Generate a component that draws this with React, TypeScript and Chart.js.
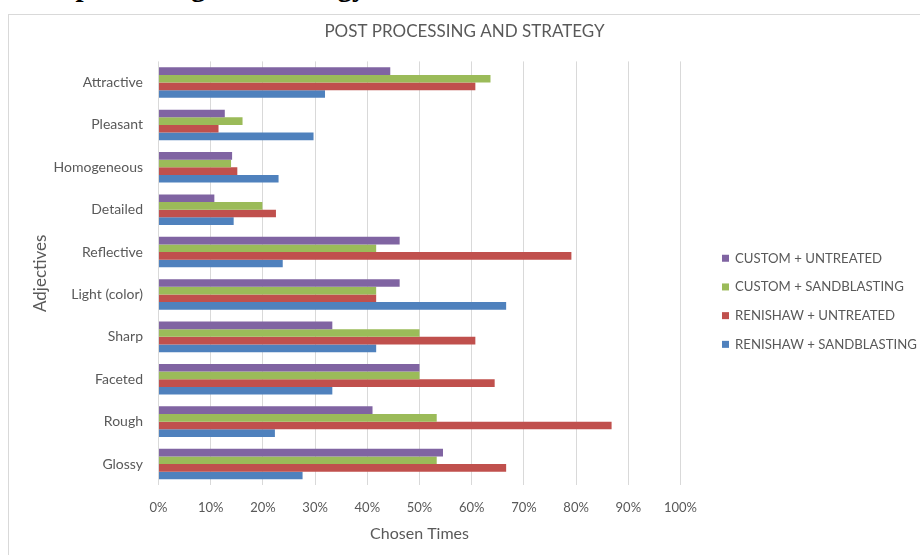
import React, { useEffect, useRef } from 'react';
import { Chart, registerables } from 'chart.js';

Chart.register(...registerables);

const categories = ['Attractive', 'Pleasant', 'Homogeneous', 'Detailed', 'Reflective', 'Light (color)', 'Sharp', 'Faceted', 'Rough', 'Glossy'];
const customUntreated = [44.4, 12.7, 14.1, 10.7, 46.2, 46.2, 33.3, 50, 41, 54.5];
const customSandblasting = [63.6, 16.1, 13.9, 19.9, 41.7, 41.7, 50, 50, 53.3, 53.3];
const renishawUntreated = [60.7, 11.5, 15.1, 22.5, 79.1, 41.7, 60.7, 64.4, 86.8, 66.6];
const renishawSandblasting = [31.9, 29.7, 23, 14.4, 23.8, 66.6, 41.7, 33.3, 22.3, 27.6];
const seriesLabels = ['CUSTOM + UNTREATED', 'CUSTOM + SANDBLASTING', 'RENISHAW + UNTREATED', 'RENISHAW + SANDBLASTING'];
const seriesColors = ['#8064A2', '#9BBB59', '#C0504D', '#4F81BD'];
const xTickLabels = ['0%', '10%', '20%', '30%', '40%', '50%', '60%', '70%', '80%', '90%', '100%'];

const FONT = 'Lato, "Open Sans", sans-serif';
const TEXT = '#595959';
const GRID = '#d9d9d9';

const sideLegend = {
  id: 'sideLegend',
  afterDraw(chart: any) {
    const { ctx, chartArea } = chart;
    const items = chart.data.datasets;
    const gap = 28.7;
    const cy = (chartArea.top + chartArea.bottom) / 2 + 28;
    const x0 = chartArea.right + 41.5;
    ctx.save();
    ctx.font = `13.2px ${FONT}`;
    ctx.textBaseline = 'middle';
    ctx.textAlign = 'left';
    items.forEach((ds: any, i: number) => {
      const y = cy + (i - (items.length - 1) / 2) * gap;
      ctx.fillStyle = ds.backgroundColor;
      ctx.fillRect(x0, y - 3.5, 7, 7);
      ctx.fillStyle = TEXT;
      ctx.fillText(ds.label, x0 + 13, y);
    });
    ctx.restore();
  },
};

export default function App() {
  const ref = useRef<HTMLCanvasElement | null>(null);

  useEffect(() => {
    if (!ref.current) return;
    const seriesValues = [customUntreated, customSandblasting, renishawUntreated, renishawSandblasting];
    const chart = new Chart(ref.current, {
      type: 'bar',
      data: {
        labels: categories,
        datasets: seriesValues.map((vals, i) => ({
          label: seriesLabels[i],
          data: vals,
          backgroundColor: seriesColors[i],
          borderColor: seriesColors[i],
          borderWidth: 0,
          categoryPercentage: 0.72,
          barPercentage: 1,
        })),
      },
      options: {
        indexAxis: 'y',
        responsive: false,
        animation: false,
        layout: { padding: 0 },
        plugins: {
          legend: { display: false },
          tooltip: { enabled: false },
          title: {
            display: true,
            text: 'POST PROCESSING AND STRATEGY',
            color: TEXT,
            font: { family: FONT, size: 17, weight: 'normal' },
            padding: { top: 6.5, bottom: 19.5 },
          },
        },
        scales: {
          x: {
            type: 'linear',
            min: 0,
            max: 100,
            grid: { color: GRID, lineWidth: 1, drawTicks: false },
            border: { display: false },
            ticks: {
              stepSize: 10,
              padding: 15,
              color: TEXT,
              font: { family: FONT, size: 13 },
              callback: (v: any) => xTickLabels[Math.round(Number(v) / 10)],
            },
            title: {
              display: true,
              text: 'Chosen Times',
              color: TEXT,
              font: { family: FONT, size: 16 },
              padding: { top: 0, bottom: 12 },
            },
            afterFit(s: any) { s.height = 69.8; },
          },
          y: {
            type: 'category',
            grid: { display: false, drawTicks: false },
            border: { display: false },
            ticks: { padding: 15.5, color: TEXT, font: { family: FONT, size: 14 } },
            title: {
              display: true,
              text: 'Adjectives',
              color: TEXT,
              font: { family: FONT, size: 17 },
              padding: { top: 21, bottom: 0 },
            },
            afterFit(s: any) { s.width = 149.5; },
          },
          spacer: {
            type: 'linear',
            position: 'right',
            display: true,
            grid: { display: false },
            border: { display: false },
            ticks: { display: false },
            afterFit(s: any) { s.width = 239.5; },
          },
        },
      } as any,
      plugins: [sideLegend],
    });
    return () => chart.destroy();
  }, []);

  return (
    <div style={{ position: 'fixed', left: 0, top: 0, width: 920, height: 555, overflow: 'hidden', background: '#fff' }}>
      <div style={{ position: 'absolute', left: 15, top: -28.5, font: 'bold 29px "Liberation Serif", serif', lineHeight: '29px', whiteSpace: 'nowrap', color: '#000' }}>
        Post processing and strategy
      </div>
      <div style={{ position: 'absolute', left: 8, top: 14, width: 940, height: 580, border: `1px solid ${GRID}`, background: '#fff' }}>
        <canvas ref={ref} width={911} height={540} style={{ position: 'absolute', left: 0, top: 0, width: 911, height: 540 }} />
      </div>
    </div>
  );
}
